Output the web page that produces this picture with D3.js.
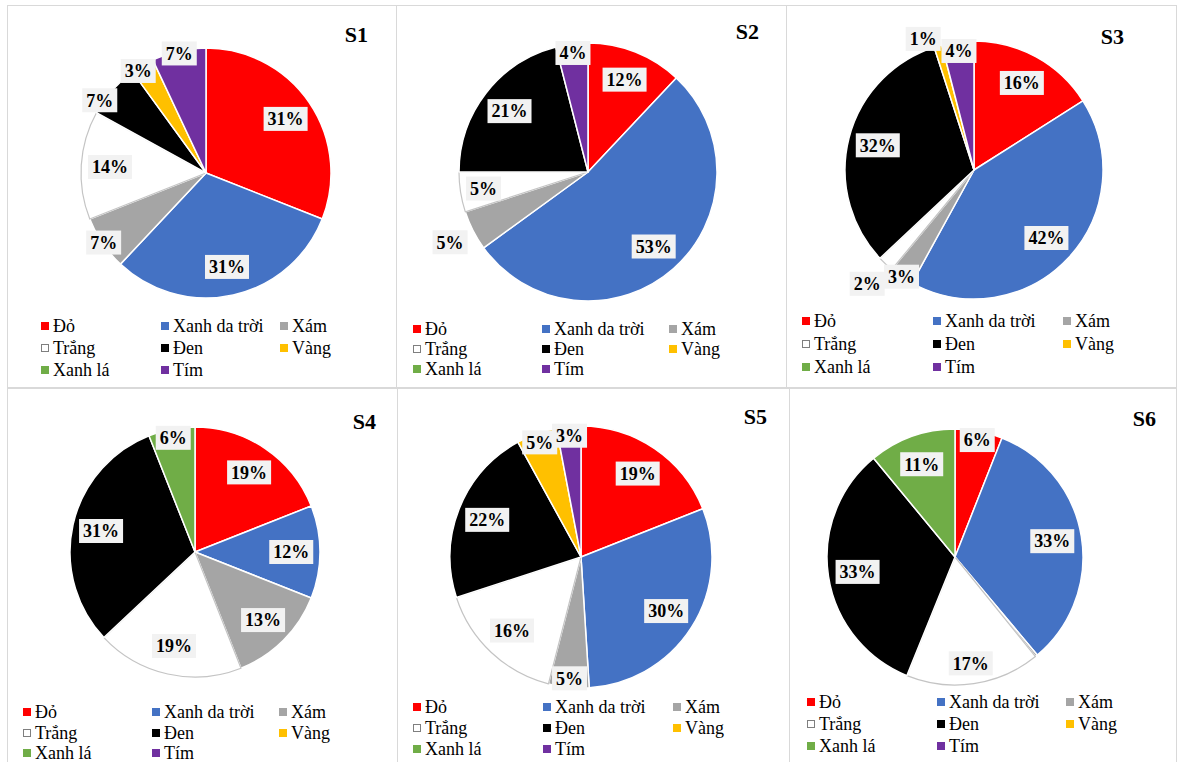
<!DOCTYPE html>
<html>
<head>
<meta charset="utf-8">
<script src="https://cdn.jsdelivr.net/npm/d3@7/dist/d3.min.js"></script>
<style>
  html, body { margin: 0; padding: 0; background: #fff; }
  svg { display: block; }
  svg text { font-family: "Liberation Serif", "DejaVu Serif", "Times New Roman", serif; }
</style>
</head>
<body>
<svg id="chart" width="1178" height="762"></svg>
<script>
// ---------- DATA ----------
const categories = ["Đỏ", "Xanh da trời", "Xám", "Trắng", "Đen", "Vàng", "Xanh lá", "Tím"];
const seriesNames = ["S1", "S2", "S3", "S4", "S5", "S6"];
const s1Values = [31, 31, 7, 14, 7, 3, 0, 7];
const s2Values = [12, 53, 5, 5, 21, 0, 0, 4];
const s3Values = [16, 42, 3, 2, 32, 1, 0, 4];
const s4Values = [19, 12, 13, 19, 31, 0, 6, 0];
const s5Values = [19, 30, 5, 16, 22, 5, 0, 3];
const s6Values = [6, 33, 0.3, 17, 33, 0, 11, 0];
const allValues = [s1Values, s2Values, s3Values, s4Values, s5Values, s6Values];

// ---------- STYLE / LAYOUT ----------
const colors = ["#FF0000", "#4472C4", "#A5A5A5", "#FFFFFF", "#000000", "#FFC000", "#70AD47", "#7030A0"];
const layout = [
  { x0: 7,   y0: 5,   w: 389, h: 382, cx: 206, cy: 173, r: 125, tx: 368,  ty: 42,  lx: [41, 161, 280],   ly: [332, 354, 376] },
  { x0: 396, y0: 5,   w: 390, h: 382, cx: 588, cy: 172, r: 129, tx: 759,  ty: 39,  lx: [413, 542, 669],  ly: [335, 355, 375] },
  { x0: 786, y0: 5,   w: 390, h: 382, cx: 974, cy: 170, r: 129, tx: 1124, ty: 44,  lx: [802, 933, 1063], ly: [327, 350, 373] },
  { x0: 7,   y0: 388, w: 390, h: 380, cx: 195, cy: 552, r: 125, tx: 376,  ty: 429, lx: [23, 152, 279],   ly: [718, 739, 759] },
  { x0: 397, y0: 388, w: 392, h: 380, cx: 581, cy: 557, r: 131, tx: 767,  ty: 424, lx: [413, 543, 673],  ly: [713, 734, 755] },
  { x0: 789, y0: 388, w: 387, h: 380, cx: 955, cy: 557, r: 128, tx: 1156, ty: 426, lx: [807, 937, 1066], ly: [708, 730, 752] }
];
// label placement tweaks (radius factor, angle shift in degrees) mimicking "best fit"
const labelTweaks = {
  "S1|Xám": { k: 0.99 }, "S1|Đen": { k: 1.03, da: -7 }, "S1|Vàng": { k: 0.98, da: -3 }, "S1|Tím": { k: 0.98 },
  "S2|Xám": { k: 1.2 }, "S2|Trắng": { k: 0.82 },
  "S3|Trắng": { k: 1.21 }, "S3|Xám": { k: 1.0 }, "S3|Vàng": { k: 1.09, da: -5 },
  "S6|Trắng": { k: 0.84 }
};
const serif = '"Liberation Serif", "DejaVu Serif", "Times New Roman", serif';

const svg = d3.select("#chart");
svg.append("rect").attr("width", 1178).attr("height", 762).attr("fill", "#fff");

const pie = d3.pie().sort(null).value(d => d.value);

seriesNames.forEach((name, si) => {
  const L = layout[si];
  const g = svg.append("g");

  // panel border
  g.append("rect")
    .attr("x", L.x0 + 0.5).attr("y", L.y0 + 0.5)
    .attr("width", L.w).attr("height", L.h)
    .attr("fill", "none").attr("stroke", "#d9d9d9").attr("stroke-width", 1);

  const data = categories.map((c, i) => ({ cat: c, value: allValues[si][i], color: colors[i] }));
  const arcs = pie(data).filter(a => a.data.value > 0);
  const arc = d3.arc().innerRadius(0).outerRadius(L.r);

  const pg = g.append("g").attr("transform", `translate(${L.cx},${L.cy})`);
  pg.selectAll("path").data(arcs).join("path")
    .attr("d", arc)
    .attr("fill", d => d.data.color)
    .attr("stroke", d => d.data.color === "#FFFFFF" ? "#c4c4c4" : "#ffffff")
    .attr("stroke-width", d => d.data.color === "#FFFFFF" ? 1.2 : 1.5)
    .attr("stroke-linejoin", "round");

  // data labels
  arcs.filter(a => a.data.value >= 0.5).forEach(a => {
    const tw = labelTweaks[name + "|" + a.data.cat] || {};
    const k = tw.k !== undefined ? tw.k : (a.data.value >= 10 ? 0.77 : 0.93);
    const ang = (a.startAngle + a.endAngle) / 2 + (tw.da || 0) * Math.PI / 180;
    const x = Math.sin(ang) * L.r * k;
    const y = -Math.cos(ang) * L.r * k;
    const lg = pg.append("g").attr("transform", `translate(${x},${y})`);
    const t = lg.append("text")
      .attr("text-anchor", "middle")
      .attr("dy", "0.35em")
      .style("font-family", serif)
      .attr("font-weight", "bold")
      .attr("font-size", 18)
      .attr("fill", "#000")
      .text(Math.round(a.data.value) + "%");
    const bb = t.node().getBBox();
    lg.insert("rect", "text")
      .attr("x", bb.x - 4).attr("y", -12)
      .attr("width", bb.width + 8).attr("height", 24)
      .attr("fill", "#f2f2f2");
  });

  // title
  g.append("text")
    .attr("x", L.tx).attr("y", L.ty)
    .attr("text-anchor", "end")
    .style("font-family", serif)
    .attr("font-weight", "bold")
    .attr("font-size", 22)
    .attr("fill", "#000")
    .text(name);

  // legend
  categories.forEach((c, i) => {
    const col = i % 3, row = Math.floor(i / 3);
    const mx = L.lx[col], by = L.ly[row];
    const isWhite = colors[i] === "#FFFFFF";
    g.append("rect")
      .attr("x", isWhite ? mx + 0.5 : mx).attr("y", isWhite ? by - 9.5 : by - 10)
      .attr("width", isWhite ? 7 : 8).attr("height", isWhite ? 7 : 8)
      .attr("fill", colors[i])
      .attr("stroke", isWhite ? "#7f7f7f" : "none")
      .attr("stroke-width", 1);
    g.append("text")
      .attr("x", mx + 12).attr("y", by)
      .style("font-family", serif)
      .attr("font-size", 18)
      .attr("fill", "#000")
      .text(c);
  });
});
</script>
</body>
</html>
